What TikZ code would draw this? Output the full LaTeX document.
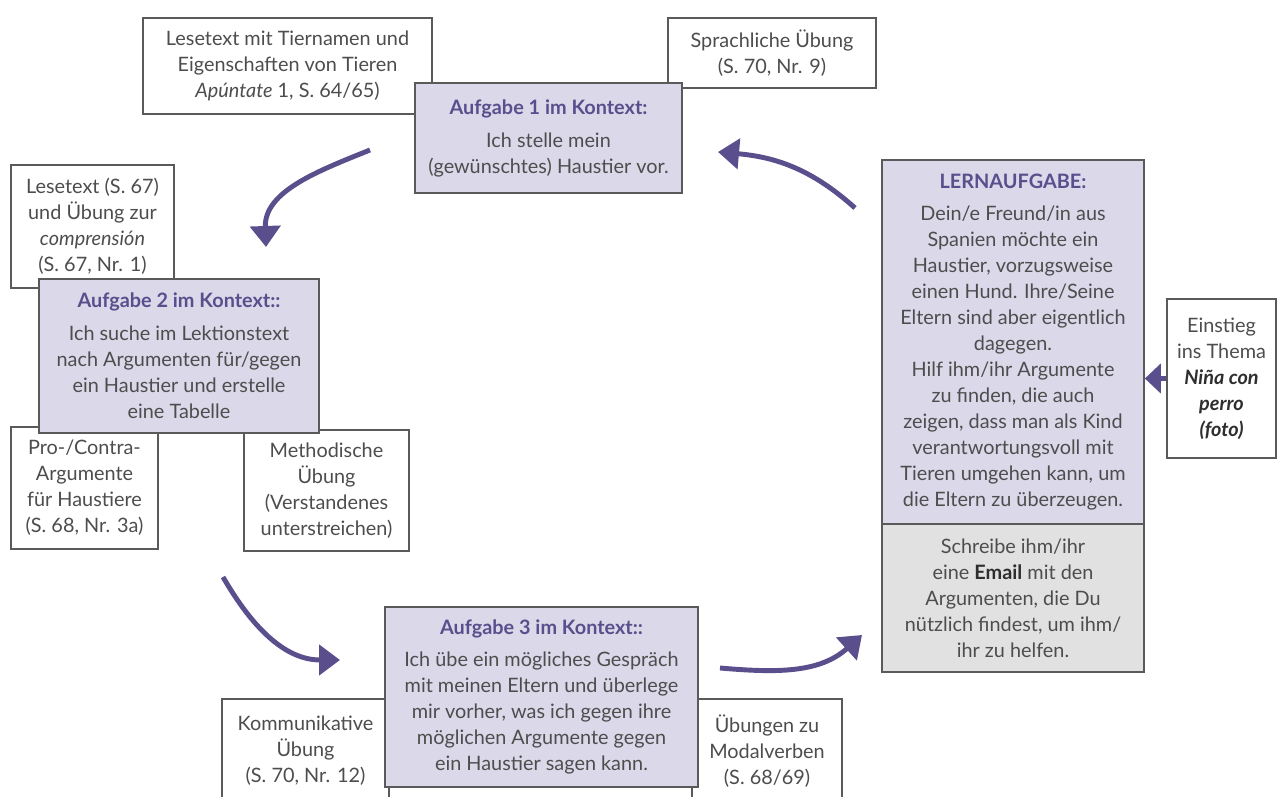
\documentclass[tikz,border=0pt]{standalone}
\usepackage{fontspec}
\setmainfont{Lato}
\usetikzlibrary{arrows.meta}
\definecolor{lila}{HTML}{5A4F8C}
\definecolor{lilafill}{HTML}{DAD8E9}
\definecolor{grau}{HTML}{E1E1E1}
\definecolor{rand}{HTML}{5A5A5A}
\definecolor{ink}{HTML}{4D4D4D}
\definecolor{dark}{HTML}{2E2E2E}
\newcommand{\kopf}[1]{{\bfseries\color{lila}#1}}
\tikzset{
  wh/.style 2 args={minimum width=#1*0.02cm,minimum height=#2*0.02cm},
  tbox/.style={draw=rand,line width=0.9pt,fill=white,align=center,inner sep=0pt,text=ink,font=\fontsize{11.3}{14.8}\selectfont},
  abox/.style={tbox,fill=lilafill},
  ebox/.style={tbox,fill=grau},
  flow/.style={-{Triangle[length=0.42cm,width=0.6cm]},line width=2.8pt,color=lila}}

\begin{document}
\begin{tikzpicture}[x=0.02cm,y=0.02cm]
\useasboundingbox (0,0) rectangle (1277,797);
\node[tbox,wh={289}{96}] (lese) at (287.5,731) {Lesetext mit Tiernamen und\\Eigenschaften von Tieren\\\textit{Apúntate} 1, S. 64/65)};
\node[tbox,wh={208}{70}] (sprach) at (772,744) {Sprachliche Übung\\(S. 70, Nr. 9)};
\node[abox,wh={267}{110}] (auf1) at (548.5,659) {\kopf{Aufgabe 1 im Kontext:}\\[4pt]Ich stelle mein\\(gewünschtes) Haustier vor.};
\node[tbox,wh={163}{123}] (komp) at (92.5,570.5) {Lesetext (S. 67)\\und Übung zur\\\textit{comprensión}\\(S. 67, Nr. 1)};
\node[tbox,wh={147}{122}] (pro) at (84.5,309) {Pro-/Contra-\\Argumente\\für Haustiere\\(S. 68, Nr. 3a)};
\node[tbox,wh={165}{121}] (meth) at (326.5,306.5) {Methodische\\Übung\\(Verstandenes\\unterstreichen)};
\node[abox,wh={280}{154}] (auf2) at (179,441) {\kopf{Aufgabe 2 im Kontext::}\\[4pt]Ich suche im Lektionstext\\nach Argumenten für/gegen\\ein Haustier und erstelle\\eine Tabelle};
\node[tbox,wh={167}{104}] (komm) at (305.5,46) {Kommunikative\\Übung\\(S. 70, Nr. 12)};
\node[tbox,wh={150}{104}] (modal) at (767,46) {Übungen zu\\Modalverben\\(S. 68/69)};
\node[abox,wh={313}{180}] (auf3) at (541.5,100) {\kopf{Aufgabe 3 im Kontext::}\\[3pt]Ich übe ein mögliches Gespräch\\mit meinen Eltern und überlege\\mir vorher, was ich gegen ihre\\möglichen Argumente gegen\\ein Haustier sagen kann.};
\node[abox,wh={262}{364}] (lern) at (1013,455) {\kopf{LERNAUFGABE:}\\[3pt]Dein/e Freund/in aus\\Spanien möchte ein\\Haustier, vorzugsweise\\einen Hund. Ihre/Seine\\Eltern sind aber eigentlich\\dagegen.\\Hilf ihm/ihr Argumente\\zu finden, die auch\\zeigen, dass man als Kind\\verantwortungsvoll mit\\Tieren umgehen kann, um\\die Eltern zu überzeugen.};
\node[ebox,wh={262}{148}] (mail) at (1013,199) {Schreibe ihm/ihr\\eine {\bfseries\color{dark}Email} mit den\\Argumenten, die Du\\nützlich findest, um ihm/\\ihr zu helfen.};
\node[tbox,wh={109}{159}] (einst) at (1221.5,418.5) {Einstieg\\ins Thema\\{\bfseries\itshape\color{dark}Niña con}\\{\bfseries\itshape\color{dark}perro}\\{\bfseries\itshape\color{dark}(foto)}};
\coordinate (p1a) at (370,647);
\coordinate (p1b) at (266,550);
\coordinate (p2a) at (223,220);
\coordinate (p2b) at (340,137);
\coordinate (p3a) at (720,129);
\coordinate (p3b) at (862,162);
\coordinate (p4a) at (855,589);
\coordinate (p4b) at (718,645);
\draw[flow] (p1a) to[out=202,in=92] (p1b);
\draw[flow] (p2a) to[out=-60,in=180] (p2b);
\draw[flow] (p3a) to[out=-5,in=222] (p3b);
\draw[flow] (p4a) to[out=138,in=-5] (p4b);
\draw[flow,-{Triangle[length=0.32cm,width=0.58cm]}] (einst.west) -- (einst.west -| lern.east);
\end{tikzpicture}
\end{document}
